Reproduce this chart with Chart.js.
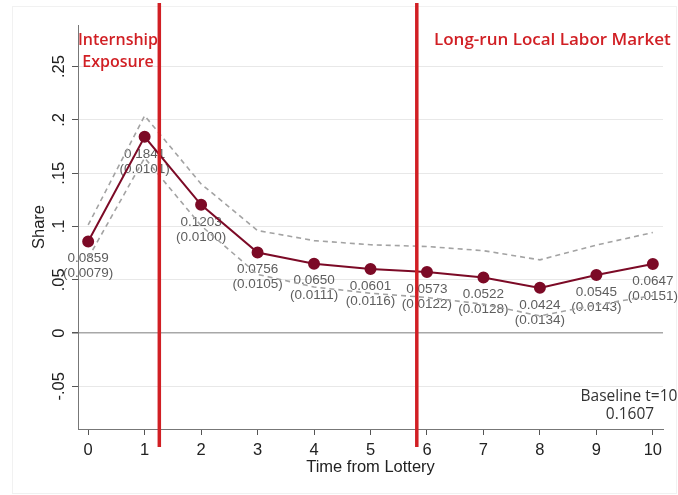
<!DOCTYPE html>
<html>
<head>
<meta charset="utf-8">
<script src="https://cdn.jsdelivr.net/npm/chart.js@4.4.1/dist/chart.umd.min.js"></script>
<style>
  html, body { margin: 0; padding: 0; background: #ffffff; }
  #wrap { width: 678px; height: 495px; position: relative; }
</style>
</head>
<body>
<div id="wrap"><canvas id="chart" width="678" height="495"></canvas></div>
<script>
// Years since the lottery, point estimates and their standard errors
const periods   = [0, 1, 2, 3, 4, 5, 6, 7, 8, 9, 10];
const estimates = [0.0859, 0.1841, 0.1203, 0.0756, 0.0650, 0.0601, 0.0573, 0.0522, 0.0424, 0.0545, 0.0647];
const stdErrors = [0.0079, 0.0101, 0.0100, 0.0105, 0.0111, 0.0116, 0.0122, 0.0128, 0.0134, 0.0143, 0.0151];

// Axis ticks
const xTickValues = periods;
const yTickValues = [-0.05, 0, 0.05, 0.1, 0.15, 0.2, 0.25];
const yTickLabels = ['-.05', '0', '.05', '.1', '.15', '.2', '.25'];

// Phase separators (in years) and their captions
const phaseMarkers = [1.26, 5.82];
const phaseCaptions = [['Internship', 'Exposure'], ['Long-run Local Labor Market']];
const baselineNote = ['Baseline t=10', '0.1607'];

const Z = 1.96;
const upperBand = estimates.map((e, i) => e + Z * stdErrors[i]);
const lowerBand = estimates.map((e, i) => e - Z * stdErrors[i]);
const toPoints = arr => arr.map((v, i) => ({ x: periods[i], y: v }));

const MAROON = '#7c0a26';
const RED = '#d11f24';
const LABEL_FONT = '"Liberation Sans", Arial, sans-serif';
const CAPTION_FONT = '"Open Sans", Lato, sans-serif';

const decorations = {
  id: 'decorations',
  beforeDraw(chart) {
    const ctx = chart.ctx;
    ctx.save();
    ctx.fillStyle = '#ffffff';
    ctx.fillRect(0, 0, chart.width, chart.height);
    ctx.strokeStyle = '#f1f1f1';
    ctx.lineWidth = 1;
    ctx.strokeRect(12.5, 6.5, chart.width - 14, chart.height - 8);
    ctx.restore();
  },
  afterDraw(chart) {
    const ctx = chart.ctx;
    const xs = chart.scales.x, ys = chart.scales.y;
    ctx.save();

    // rotated y tick labels
    ctx.fillStyle = '#222';
    ctx.font = '16.5px ' + LABEL_FONT;
    ctx.textAlign = 'center';
    ctx.textBaseline = 'middle';
    yTickValues.forEach((v, i) => {
      const py = ys.getPixelForValue(v);
      ctx.save();
      ctx.translate(59, py);
      ctx.rotate(-Math.PI / 2);
      ctx.fillText(yTickLabels[i], 0, 0);
      ctx.restore();
    });

    // phase separators
    ctx.strokeStyle = RED;
    ctx.lineWidth = 3.5;
    phaseMarkers.forEach(m => {
      const px = xs.getPixelForValue(m);
      ctx.beginPath();
      ctx.moveTo(px, 3);
      ctx.lineTo(px, 447);
      ctx.stroke();
    });

    // phase captions
    ctx.fillStyle = RED;
    ctx.font = '600 16px ' + CAPTION_FONT;
    ctx.textBaseline = 'middle';
    ctx.textAlign = 'center';
    ctx.fillText(phaseCaptions[0][0], 118, 40);
    ctx.fillText(phaseCaptions[0][1], 118, 62);
    ctx.font = '600 17px ' + CAPTION_FONT;
    ctx.textAlign = 'left';
    ctx.fillText(phaseCaptions[1][0], 434, 40);

    // baseline note
    ctx.fillStyle = '#333';
    ctx.font = '15.5px ' + CAPTION_FONT;
    ctx.textAlign = 'center';
    ctx.fillText(baselineNote[0], 629, 397);
    ctx.fillText(baselineNote[1], 630, 415);

    ctx.restore();
  },
  beforeDatasetsDraw(chart) {
    const ctx = chart.ctx;
    const xs = chart.scales.x, ys = chart.scales.y;
    ctx.save();
    ctx.fillStyle = '#5e5e5e';
    ctx.font = '13.5px ' + LABEL_FONT;
    ctx.textAlign = 'center';
    ctx.textBaseline = 'middle';
    estimates.forEach((e, i) => {
      const px = xs.getPixelForValue(periods[i]);
      const py = ys.getPixelForValue(e);
      ctx.fillText(e.toFixed(4), px, py + 17);
      ctx.fillText('(' + stdErrors[i].toFixed(4) + ')', px, py + 32);
    });
    ctx.restore();
  }
};

new Chart(document.getElementById('chart'), {
  type: 'line',
  data: {
    datasets: [
      {
        label: 'Upper 95% CI',
        data: toPoints(upperBand),
        borderColor: '#a3a3a3',
        borderWidth: 1.6,
        borderDash: [5, 4],
        pointRadius: 0,
        fill: false,
        tension: 0
      },
      {
        label: 'Lower 95% CI',
        data: toPoints(lowerBand),
        borderColor: '#a3a3a3',
        borderWidth: 1.6,
        borderDash: [5, 4],
        pointRadius: 0,
        fill: false,
        tension: 0
      },
      {
        label: 'Share',
        data: toPoints(estimates),
        borderColor: MAROON,
        backgroundColor: MAROON,
        borderWidth: 2,
        pointRadius: 5,
        pointBackgroundColor: MAROON,
        pointBorderColor: MAROON,
        fill: false,
        tension: 0
      }
    ]
  },
  options: {
    responsive: false,
    animation: false,
    devicePixelRatio: 1,
    layout: { padding: { top: 25, right: 15, left: 0, bottom: 0 } },
    plugins: {
      legend: { display: false },
      tooltip: { enabled: false }
    },
    scales: {
      x: {
        type: 'linear',
        min: -0.18,
        max: 10.18,
        afterBuildTicks: s => { s.ticks = xTickValues.map(v => ({ value: v })); },
        afterFit: s => { s.height = 66; },
        grid: {
          display: true,
          drawOnChartArea: false,
          drawTicks: true,
          tickLength: 6,
          tickColor: '#555'
        },
        border: { display: true, color: '#777', width: 1 },
        ticks: {
          padding: 6,
          color: '#222',
          font: { family: LABEL_FONT, size: 16.5 },
          maxRotation: 0,
          callback: v => String(v)
        },
        title: {
          display: true,
          text: 'Time from Lottery',
          color: '#222',
          font: { family: LABEL_FONT, size: 16.5 },
          padding: { top: 0, bottom: 18 }
        }
      },
      y: {
        type: 'linear',
        min: -0.09,
        max: 0.289,
        afterBuildTicks: s => { s.ticks = yTickValues.map(v => ({ value: v })); },
        afterFit: s => { s.width = 78; },
        grid: {
          color: c => (c.tick && c.tick.value === 0 ? '#a8a8a8' : '#e8e8e8'),
          lineWidth: c => (c.tick && c.tick.value === 0 ? 1.5 : 1),
          drawTicks: true,
          tickLength: 6,
          tickColor: '#555'
        },
        border: { display: true, color: '#777', width: 1 },
        ticks: { display: false },
        title: {
          display: true,
          text: 'Share',
          color: '#222',
          font: { family: LABEL_FONT, size: 16.5 },
          padding: { top: 30, bottom: 0 }
        }
      }
    }
  },
  plugins: [decorations]
});
</script>
</body>
</html>
